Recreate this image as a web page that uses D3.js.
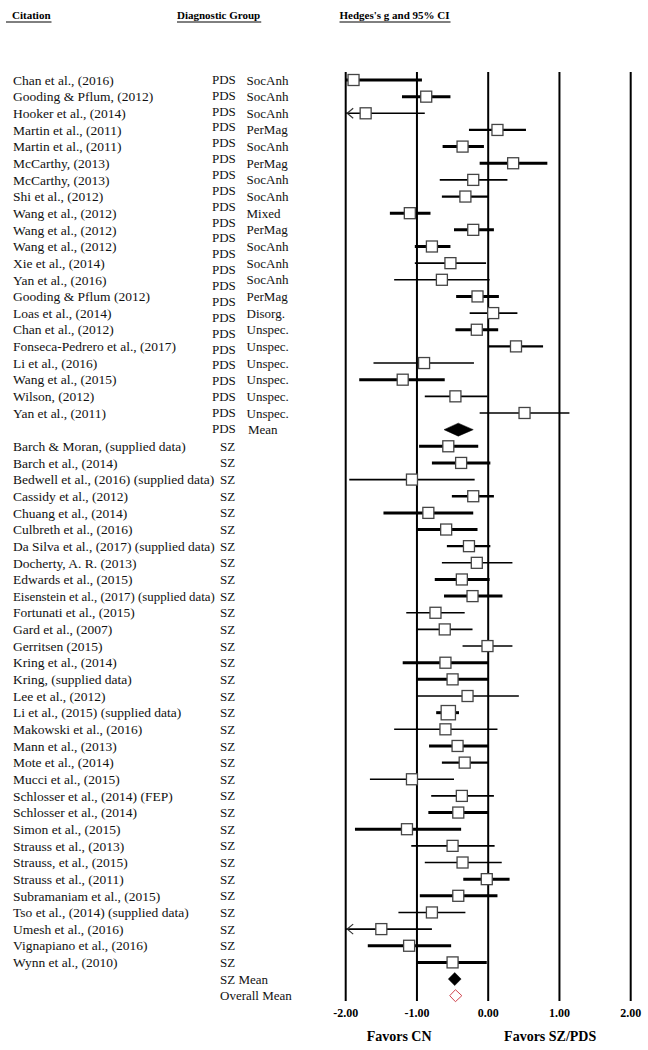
<!DOCTYPE html>
<html><head><meta charset="utf-8">
<script src="https://cdn.jsdelivr.net/npm/d3@7"></script>
<style>body{margin:0;background:#fff}svg{display:block}</style>
</head><body>
<svg id="chart" width="648" height="1050"></svg>
<script>
// ---------- DATA ----------
const headers = ["Citation", "Diagnostic Group", "Hedges's g and 95% CI"];

const citations = [
  "Chan et al., (2016)", "Gooding & Pflum, (2012)", "Hooker et al., (2014)", "Martin et al., (2011)",
  "Martin et al., (2011)", "McCarthy, (2013)", "McCarthy, (2013)", "Shi et al., (2012)",
  "Wang et al., (2012)", "Wang et al., (2012)", "Wang et al., (2012)", "Xie et al., (2014)",
  "Yan et al., (2016)", "Gooding & Pflum (2012)", "Loas et al., (2014)", "Chan et al., (2012)",
  "Fonseca-Pedrero et al.,  (2017)", "Li et al., (2016)", "Wang et al., (2015)", "Wilson, (2012)",
  "Yan et al., (2011)",
  "Barch  & Moran, (supplied data)", "Barch et al., (2014)", "Bedwell et al., (2016) (supplied data)",
  "Cassidy et al., (2012)", "Chuang et al., (2014)", "Culbreth et al., (2016)",
  "Da Silva et al., (2017) (supplied data)", "Docherty, A. R. (2013)", "Edwards et al., (2015)",
  "Eisenstein et al., (2017) (supplied data)", "Fortunati et al., (2015)", "Gard et al., (2007)",
  "Gerritsen (2015)", "Kring et al., (2014)", "Kring, (supplied data)", "Lee et al., (2012)",
  "Li et al., (2015) (supplied data)", "Makowski et al., (2016)", "Mann et al., (2013)",
  "Mote et al.,  (2014)", "Mucci et al., (2015)", "Schlosser et al., (2014) (FEP)",
  "Schlosser et al., (2014)", "Simon et al.,  (2015)", "Strauss et al., (2013)",
  "Strauss, et al.,  (2015)", "Strauss et al., (2011)", "Subramaniam et al., (2015)",
  "Tso et al., (2014) (supplied data)", "Umesh et al., (2016)", "Vignapiano et al., (2016)",
  "Wynn et al.,  (2010)"
];

const groups = [
  "PDS","PDS","PDS","PDS","PDS","PDS","PDS","PDS","PDS","PDS","PDS","PDS","PDS","PDS","PDS","PDS",
  "PDS","PDS","PDS","PDS","PDS",
  "SZ","SZ","SZ","SZ","SZ","SZ","SZ","SZ","SZ","SZ","SZ","SZ","SZ","SZ","SZ","SZ",
  "SZ","SZ","SZ","SZ","SZ","SZ","SZ","SZ","SZ","SZ","SZ","SZ","SZ","SZ","SZ","SZ"
];

const subtypes = [
  "SocAnh","SocAnh","SocAnh","PerMag","SocAnh","PerMag","SocAnh","SocAnh","Mixed","PerMag","SocAnh",
  "SocAnh","SocAnh","PerMag","Disorg.","Unspec.","Unspec.","Unspec.","Unspec.","Unspec.","Unspec.",
  "","","","","","","","","","","","","","","","","","","","","","","","","","","","","","","",""
];

// Printed group column for the PDS block (the source prints it on its own spacing)
const pdsColumnLabels = ["PDS","PDS","PDS","PDS","PDS","PDS","PDS","PDS","PDS","PDS","PDS","PDS",
  "PDS","PDS","PDS","PDS","PDS","PDS","PDS","PDS","PDS","PDS","PDS"];

const hedgesG = [
  -1.89, -0.87, -1.72, 0.13, -0.36, 0.35, -0.21, -0.32, -1.10, -0.21, -0.79, -0.53, -0.65, -0.15,
  0.07, -0.16, 0.39, -0.90, -1.20, -0.46, 0.51,
  -0.56, -0.38, -1.07, -0.21, -0.84, -0.59, -0.27, -0.16, -0.37, -0.22, -0.74, -0.61, -0.01,
  -0.60, -0.50, -0.29, -0.56, -0.60, -0.43, -0.33, -1.07, -0.37, -0.42, -1.14, -0.50, -0.36,
  -0.02, -0.42, -0.79, -1.50, -1.11, -0.50
];
const ciLow = [
  -2.00, -1.21, -2.00, -0.27, -0.64, -0.12, -0.68, -0.65, -1.38, -0.48, -1.03, -1.03, -1.32, -0.45,
  -0.26, -0.46, 0.00, -1.61, -1.81, -0.89, -0.12,
  -0.97, -0.79, -1.95, -0.51, -1.47, -1.00, -0.58, -0.65, -0.75, -0.62, -1.15, -1.00, -0.36,
  -1.20, -1.00, -1.00, -0.73, -1.32, -0.83, -0.65, -1.66, -0.80, -0.84, -1.87, -1.08, -0.89,
  -0.35, -0.96, -1.26, -2.00, -1.69, -1.00
];
const ciHigh = [
  -0.93, -0.53, -0.89, 0.53, -0.06, 0.83, 0.27, 0.00, -0.81, 0.08, -0.53, -0.03, 0.02, 0.15,
  0.41, 0.14, 0.77, -0.20, -0.61, -0.01, 1.14,
  -0.14, 0.03, -0.19, 0.08, -0.21, -0.15, 0.03, 0.34, 0.02, 0.20, -0.33, -0.22, 0.34,
  0.00, 0.00, 0.43, -0.41, 0.13, 0.00, 0.00, -0.48, 0.08, 0.00, -0.38, 0.09, 0.19,
  0.30, 0.13, -0.32, -0.79, -0.52, -0.02
];
// CI truncated at the axis minimum (drawn with an arrow)
const truncatedLow = [
  false,false,true,false,false,false,false,false,false,false,false,false,false,false,false,false,
  false,false,false,false,false,
  false,false,false,false,false,false,false,false,false,false,false,false,false,false,false,false,
  false,false,false,false,false,false,false,false,false,false,false,false,false,true,false,false
];
// Relative study weight class (1 = low, 2 = medium, 3 = high) -> line weight
const studyWeight = [
  3,3,1,2,3,3,1,2,3,3,3,1,1,3,1,3,2,1,3,1,1,
  3,3,1,2,3,3,2,1,3,3,1,1,1,3,3,1,3,1,3,2,1,1,3,3,1,1,3,3,1,1,3,3
];
const boxWeight = [
  1,1,1,1,1,1,1,1,1,1,1,1,1,1,1,1,1,1,1,1,1,
  1,1,1,1,1,1,1,1,1,1,1,1,1,1,1,1,1.3,1,1,1,1,1,1,1,1,1,1,1,1,1,1,1
];

const summaryLabels = ["Mean", "SZ Mean", "Overall Mean"];
const summaryG = [-0.42, -0.47, -0.46];
const summaryLow = [-0.62, -0.56, -0.54];
const summaryHigh = [-0.21, -0.38, -0.37];
const summaryRowIndex = [21, 54, 55];

const tickValues = [-2, -1, 0, 1, 2];
const tickLabels = ["-2.00", "-1.00", "0.00", "1.00", "2.00"];
const favorLabels = ["Favors CN", "Favors SZ/PDS"];
const favorValues = [-1.25, 0.87];

// ---------- LAYOUT ----------
const svg = d3.select("#chart");
const serif = "'Liberation Serif','Times New Roman',serif";

const nRows = 56;
const y = d3.scaleLinear().domain([0, nRows - 1]).range([80, 995.7]);
const x = d3.scaleLinear().domain([-2, 2]).range([345.7, 630.7]);
const lw = d3.scaleLinear().domain([1, 3]).range([1.6, 3]);

// study row index: PDS studies 0..20, SZ studies 22..53
const studyRow = i => (i < 21 ? i : i + 1);

// Headers
const headerX = [12, 177, 339.5];
const hdr = svg.append("g");
headers.forEach((h, i) => {
  const t = hdr.append("text").attr("x", headerX[i]).attr("y", 15).attr("dy", "0.35em")
    .attr("font-family", serif).attr("font-weight", "bold").attr("font-size", 11).text(h);
  const w = t.node().getComputedTextLength();
  hdr.append("line").attr("x1", headerX[i] - (i === 0 ? 6 : 0)).attr("x2", headerX[i] + w + 1)
    .attr("y1", 22).attr("y2", 22).attr("stroke", "#000").attr("stroke-width", 1);
});

// Gridlines
svg.append("g").selectAll("line").data(tickValues).join("line")
  .attr("x1", d => x(d)).attr("x2", d => x(d))
  .attr("y1", 72).attr("y2", 1001)
  .attr("stroke", "#000").attr("stroke-width", 2);

// Tick labels
svg.append("g").selectAll("text").data(tickValues).join("text")
  .attr("x", d => x(d)).attr("y", 1013).attr("dy", "0.35em").attr("text-anchor", "middle")
  .attr("font-family", serif).attr("font-weight", "bold").attr("font-size", 12)
  .text((d, i) => tickLabels[i]);

svg.append("g").selectAll("text").data(favorLabels).join("text")
  .attr("x", (d, i) => x(favorValues[i])).attr("y", 1036).attr("dy", "0.35em").attr("text-anchor", "middle")
  .attr("font-family", serif).attr("font-weight", "bold").attr("font-size", 14)
  .text(d => d);

// Citation labels
const groupColX = 220;
const citFont = 13.5;
const labels = svg.append("g").attr("font-family", serif).attr("font-size", 13).attr("fill", "#111");
labels.selectAll("text.cit").data(citations).join("text").attr("class", "cit")
  .attr("x", 13).attr("y", (d, i) => y(studyRow(i))).attr("dy", "0.35em")
  .attr("font-size", citFont).text(d => d)
  .each(function() {
    const len = this.getComputedTextLength();
    const maxLen = groupColX - 5 - 13;
    if (len > maxLen) d3.select(this).attr("font-size", citFont * maxLen / len);
  });

// Group column: SZ rows
labels.selectAll("text.sz").data(groups.map((g, i) => ({g, i})).filter(d => d.g === "SZ")).join("text")
  .attr("class", "sz").attr("x", groupColX).attr("y", d => y(studyRow(d.i))).attr("dy", "0.35em").text(d => d.g);

// Group column: PDS block printed on its own spacing
const yPds = d3.scaleLinear().domain([0, pdsColumnLabels.length - 1]).range([79.3, 428.3]);
labels.selectAll("text.pds").data(pdsColumnLabels).join("text").attr("class", "pds")
  .attr("x", 212).attr("y", (d, i) => yPds(i)).attr("dy", "0.35em").text(d => d);

// Subtypes
labels.selectAll("text.sub").data(subtypes.map((s, i) => ({s, i})).filter(d => d.s)).join("text")
  .attr("class", "sub").attr("x", 246.5).attr("y", d => y(studyRow(d.i))).attr("dy", "0.35em").text(d => d.s);

// Summary labels
labels.selectAll("text.sum").data(summaryLabels).join("text").attr("class", "sum")
  .attr("x", (d, i) => i === 0 ? 248 : groupColX).attr("y", (d, i) => y(summaryRowIndex[i])).attr("dy", "0.35em")
  .text(d => d);

// CI lines
const studies = hedgesG.map((g, i) => ({g, lo: ciLow[i], hi: ciHigh[i], trunc: truncatedLow[i], w: studyWeight[i], b: boxWeight[i], row: studyRow(i)}));
const marks = svg.append("g");
marks.selectAll("line.ci").data(studies).join("line").attr("class", "ci")
  .attr("x1", d => x(d.lo)).attr("x2", d => x(d.hi))
  .attr("y1", d => y(d.row)).attr("y2", d => y(d.row))
  .attr("stroke", "#000").attr("stroke-width", d => lw(d.w));

// Arrows for truncated CIs
marks.selectAll("path.arrow").data(studies.filter(d => d.trunc)).join("path").attr("class", "arrow")
  .attr("d", d => {
    const x0 = x(d.lo) + 1.5, yy = y(d.row);
    return `M${x0 + 6},${yy - 5}L${x0},${yy}L${x0 + 6},${yy + 5}`;
  })
  .attr("fill", "none").attr("stroke", "#333").attr("stroke-width", 1.2);

// Boxes
const box = 11;
marks.selectAll("rect.pt").data(studies).join("rect").attr("class", "pt")
  .attr("x", d => x(d.g) - box * d.b / 2).attr("y", d => y(d.row) - box * d.b / 2)
  .attr("width", d => box * d.b).attr("height", d => box * d.b)
  .attr("fill", "#fff").attr("stroke", "#444").attr("stroke-width", 1.3);

// Summary diamonds
const summaries = summaryG.map((g, i) => ({g, lo: summaryLow[i], hi: summaryHigh[i], row: summaryRowIndex[i], i}));
marks.selectAll("path.dia").data(summaries).join("path").attr("class", "dia")
  .attr("d", d => {
    const yy = y(d.row), h = d.i === 2 ? 6 : 6.5;
    return `M${x(d.lo)},${yy}L${x(d.g)},${yy - h}L${x(d.hi)},${yy}L${x(d.g)},${yy + h}Z`;
  })
  .attr("fill", d => d.i === 2 ? "#fff" : "#000")
  .attr("stroke", d => d.i === 2 ? "#d0454f" : "#000")
  .attr("stroke-width", d => d.i === 2 ? 1 : 0.5);
</script>
</body></html>
